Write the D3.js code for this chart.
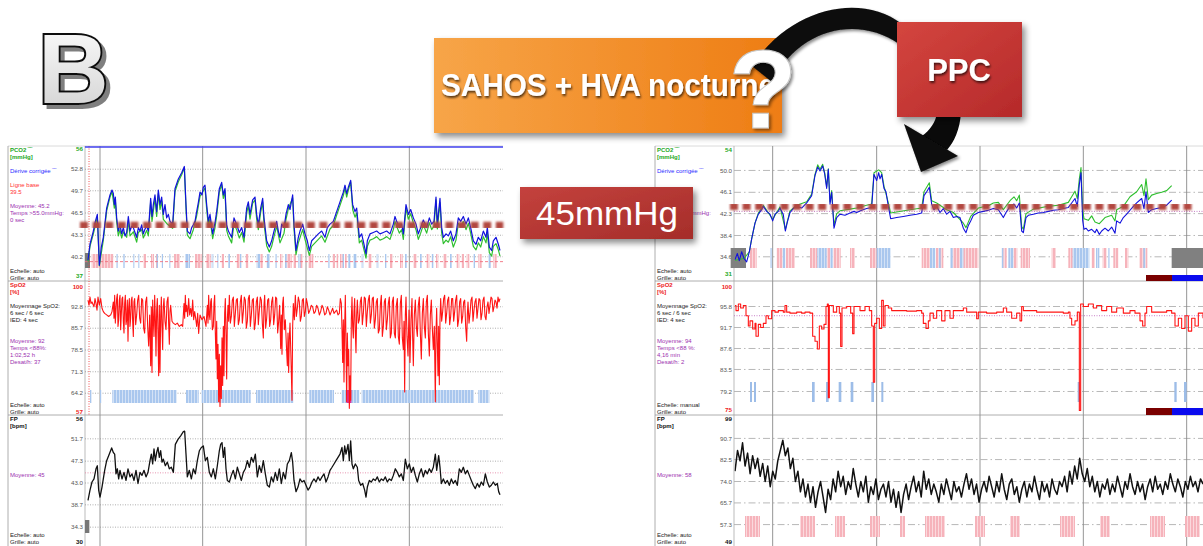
<!DOCTYPE html>
<html>
<head>
<meta charset="utf-8">
<script src="https://cdn.jsdelivr.net/npm/d3@7"></script>
<style>
  body { margin: 0; background: #fff; }
  svg { display: block; }
  text { font-family: "Liberation Sans", Arial, sans-serif; }
</style>
</head>
<body>
<svg id="chart" width="1203" height="546"></svg>
<script>
// time is a sample index along the night, hour lines sit on these samples
const hourMarksL = [60, 368, 678, 988];
const hourMarksR = [128, 440, 750, 1060, 1370];

// y ticks (first / last are the scale limits)
const pco2TicksL = [56, 52.8, 49.7, 46.5, 43.3, 40.2, 37];
const spo2TicksL = [100, 92.8, 85.7, 78.5, 71.3, 64.2, 57];
const fpTicksL = [56, 51.7, 47.3, 43.0, 38.7, 34.3, 30];
const pco2TicksR = [54, 50.0, 46.1, 42.3, 38.4, 34.6, 31];
const spo2TicksR = [100, 95.8, 91.7, 87.6, 83.5, 79.2, 75];
const fpTicksR = [99, 90.7, 82.5, 74.0, 65.7, 57.3, 49];

// label column text: [text, kind]
const pco2InfoL = [["PCO2 ‾‾", "sig"], ["[mmHg]", "sig"], null, ["Dérive corrigée ‾‾", "drift"], null, ["Ligne base", "base"], ["39.5", "base"], null, ["Moyenne: 45.2", "stat"], ["Temps >55.0mmHg:", "stat"], ["0 sec", "stat"]];
const spo2InfoL = [["SpO2", "sig"], ["[%]", "sig"], null, ["Moyennage SpO2:", "info"], ["6 sec / 6 sec", "info"], ["IED: 4 sec", "info"], null, null, ["Moyenne: 92", "stat"], ["Temps <88%:", "stat"], ["1:02,52 h", "stat"], ["Desat/h: 37", "stat"]];
const fpInfoL = [["FP", "sig"], ["[bpm]", "sig"], null, null, null, null, null, null, ["Moyenne: 45", "stat"]];
const footL = [["Echelle: auto", "Grille: auto"], ["Echelle: auto", "Grille: auto"], ["Echelle: auto", "Grille: auto"]];

const pco2InfoR = [["PCO2 ‾‾", "sig"], ["[mmHg]", "sig"], null, ["Dérive corrigée ‾‾", "drift"], null, null, null, null, null, ["Temps >55.0mmHg:", "stat"]];
const spo2InfoR = [["SpO2", "sig"], ["[%]", "sig"], null, ["Moyennage SpO2:", "info"], ["6 sec / 6 sec", "info"], ["IED: 4 sec", "info"], null, null, ["Moyenne: 94", "stat"], ["Temps <88 %:", "stat"], ["4,16 min", "stat"], ["Desat/h: 2", "stat"]];
const fpInfoR = [["FP", "sig"], ["[bpm]", "sig"], null, null, null, null, null, null, ["Moyenne: 58", "stat"]];
const footR = [["Echelle: auto", "Grille: auto"], ["Echelle: manual", "Grille: auto"], ["Echelle: auto", "Grille: auto"]];

// ---- left recording (before) ----
const pco2BlueL = [[24,39.7],[30,42.0],[40,43.9],[46,45.3],[52,46.3],[58,39.0],[64,41.6],[70,43.0],[80,47.2],[90,49.1],[96,49.8],[100,49.3],[103,47.7],[106,48.8],[110,45.8],[115,43.9],[120,44.8],[125,43.5],[130,44.4],[135,43.2],[140,43.7],[145,46.0],[150,43.9],[155,44.6],[160,44.4],[165,43.7],[170,43.0],[175,44.4],[180,43.9],[185,44.8],[190,43.5],[195,44.2],[200,44.6],[205,43.9],[210,47.2],[212,48.6],[216,46.0],[220,47.7],[225,49.1],[230,46.7],[235,49.8],[240,47.7],[245,48.8],[250,46.3],[255,47.7],[260,45.8],[265,46.3],[270,45.3],[278,44.9],[285,50.0],[295,51.4],[305,52.3],[313,53.2],[318,47.7],[322,43.9],[330,43.5],[335,44.4],[340,44.8],[345,45.3],[350,46.7],[355,48.0],[360,49.5],[366,49.1],[370,50.2],[375,50.5],[380,47.7],[385,45.3],[390,46.3],[398,43.5],[405,45.1],[410,46.7],[418,50.0],[425,50.9],[430,49.1],[435,50.0],[440,44.8],[445,43.9],[455,43.0],[462,45.8],[470,44.8],[478,43.7],[485,44.4],[492,43.0],[500,47.2],[505,48.1],[510,46.3],[518,48.4],[525,48.8],[530,46.3],[535,44.8],[542,47.2],[548,48.6],[552,45.8],[560,42.5],[568,41.6],[575,42.5],[582,43.9],[590,45.3],[595,43.9],[600,43.0],[605,44.9],[612,44.4],[618,46.3],[625,47.7],[630,47.0],[638,49.1],[642,44.9],[648,41.1],[655,43.0],[660,43.9],[668,44.9],[675,43.5],[682,42.5],[688,41.1],[695,42.5],[705,43.0],[715,43.5],[725,43.9],[735,43.0],[742,44.4],[750,44.9],[760,45.3],[770,46.7],[780,48.1],[790,49.5],[795,50.5],[800,49.3],[805,50.2],[812,51.2],[818,47.7],[825,46.7],[830,47.2],[838,43.0],[845,43.5],[852,42.0],[858,40.6],[862,42.5],[870,43.5],[880,43.7],[890,43.9],[900,43.5],[910,43.7],[920,43.9],[930,43.5],[940,44.9],[945,46.0],[950,45.3],[958,44.4],[965,44.9],[970,43.5],[978,47.7],[985,46.3],[992,47.0],[1000,45.8],[1008,44.9],[1015,43.5],[1022,44.4],[1030,45.5],[1040,44.4],[1048,45.8],[1055,44.9],[1062,45.3],[1068,48.8],[1072,44.9],[1080,48.6],[1085,44.4],[1090,43.0],[1098,43.5],[1105,43.2],[1112,43.9],[1120,42.5],[1128,43.5],[1135,45.8],[1142,45.3],[1150,46.0],[1158,44.9],[1165,45.8],[1172,44.4],[1180,42.5],[1188,42.0],[1195,43.0],[1202,42.5],[1210,43.9],[1218,43.0],[1222,44.4],[1228,41.6],[1235,41.1],[1240,42.5],[1248,43.0],[1255,42.0],[1260,41.1]];
const pco2GreenL = [[24,39.5],[30,41.7],[40,43.5],[52,45.9],[58,38.9],[70,42.6],[80,46.8],[90,48.8],[96,49.6],[103,47.2],[106,48.4],[110,45.2],[115,43.2],[120,44.1],[125,42.9],[130,43.8],[140,43.0],[145,45.4],[150,43.2],[160,43.8],[170,42.3],[175,43.7],[185,44.1],[190,42.9],[200,44.0],[205,43.2],[212,48.1],[216,45.3],[225,48.6],[230,46.0],[235,49.3],[240,47.0],[245,48.2],[250,45.6],[260,45.0],[270,44.6],[278,44.3],[285,49.6],[295,51.0],[305,52.0],[313,53.0],[318,47.2],[322,43.3],[330,42.8],[340,44.1],[350,46.1],[360,48.9],[370,49.7],[375,50.1],[380,47.1],[385,44.6],[390,45.7],[398,42.8],[405,44.4],[410,46.1],[418,49.5],[425,50.6],[430,48.6],[435,49.6],[440,44.0],[445,43.2],[455,42.2],[462,45.0],[470,44.1],[478,42.9],[485,43.7],[492,42.3],[500,46.5],[505,47.6],[510,45.6],[518,47.9],[525,48.4],[530,45.6],[535,44.1],[542,46.6],[548,48.1],[552,45.0],[560,41.8],[568,40.9],[575,41.7],[582,43.1],[590,44.6],[600,42.2],[612,43.6],[618,45.6],[625,47.1],[638,48.7],[642,44.2],[648,40.5],[655,42.2],[668,44.1],[675,42.7],[688,40.4],[695,41.7],[705,42.2],[715,42.7],[725,43.2],[735,42.3],[750,44.2],[760,44.7],[770,46.2],[780,47.6],[790,49.0],[795,50.1],[800,48.8],[805,49.8],[812,51.0],[818,47.0],[825,45.9],[830,46.5],[838,42.2],[845,42.6],[852,41.2],[858,40.0],[862,41.7],[870,42.6],[880,42.8],[890,43.1],[900,42.6],[910,42.8],[920,43.1],[930,42.7],[940,44.1],[945,45.3],[950,44.6],[958,43.6],[965,44.1],[970,42.7],[978,47.2],[985,45.6],[992,46.4],[1000,45.1],[1008,44.1],[1015,42.7],[1022,43.6],[1030,44.8],[1040,43.6],[1048,45.1],[1055,44.1],[1062,44.6],[1068,48.4],[1072,44.2],[1080,48.0],[1085,43.6],[1090,42.1],[1098,42.6],[1105,42.3],[1112,43.1],[1120,41.6],[1128,42.6],[1135,45.0],[1142,44.5],[1150,45.3],[1158,44.1],[1165,45.0],[1172,43.6],[1180,41.7],[1188,41.2],[1195,42.2],[1202,41.6],[1210,43.1],[1218,42.2],[1222,43.6],[1228,40.8],[1235,40.3],[1240,41.7],[1248,42.1],[1255,41.2],[1260,40.3]];
const spo2L = [[24,95.0],[27,93.3],[30,96.0],[33,93.9],[36,94.4],[42,92.8],[45,95.5],[48,93.9],[51,91.7],[54,96.0],[58,93.3],[62,95.5],[66,92.3],[70,91.2],[74,90.6],[80,90.1],[86,89.6],[92,90.1],[96,91.2],[100,94.4],[102,89.0],[104,96.6],[106,87.4],[108,91.7],[110,95.5],[112,97.0],[114,86.3],[116,88.5],[118,95.0],[120,96.6],[122,85.2],[124,90.6],[126,95.5],[128,96.0],[130,88.0],[132,84.1],[134,93.9],[136,96.6],[138,86.9],[140,88.5],[142,95.0],[144,81.4],[146,92.3],[148,95.5],[150,86.3],[152,89.0],[154,95.0],[156,96.0],[158,88.0],[160,83.0],[162,94.4],[164,95.5],[167,86.9],[170,90.1],[173,95.0],[176,96.6],[179,89.0],[182,87.4],[185,95.5],[188,95.0],[191,85.7],[194,84.1],[197,94.4],[200,96.0],[203,86.3],[206,79.8],[209,90.1],[212,73.3],[214,92.8],[216,71.1],[218,95.0],[220,88.5],[222,83.0],[224,96.6],[226,89.0],[228,76.5],[230,91.7],[232,95.5],[234,84.1],[236,70.0],[238,93.3],[240,71.1],[242,89.6],[244,96.0],[246,86.3],[248,78.7],[250,92.8],[252,95.5],[255,88.0],[258,85.2],[261,94.4],[264,96.0],[266,86.9],[268,80.4],[270,91.2],[272,93.3],[276,88.0],[280,87.4],[286,86.9],[292,87.4],[298,86.3],[304,86.9],[308,86.3],[312,93.9],[314,89.0],[316,96.6],[318,91.2],[320,93.3],[323,89.6],[326,95.5],[329,90.1],[332,92.3],[335,89.6],[338,95.0],[341,88.5],[344,91.2],[347,89.0],[350,86.3],[353,90.6],[356,84.0],[360,90.1],[366,88.5],[372,89.6],[378,86.3],[382,93.3],[384,87.4],[386,96.6],[388,90.1],[390,88.5],[392,94.4],[394,95.5],[397,85.2],[400,86.3],[402,93.9],[404,96.6],[406,84.1],[408,75.5],[410,88.0],[412,69.0],[414,80.4],[416,61.4],[418,77.1],[420,59.8],[422,73.3],[424,62.5],[426,82.5],[428,66.8],[430,86.3],[432,70.0],[434,90.6],[436,95.5],[438,84.1],[440,68.9],[442,88.5],[444,93.3],[446,88.0],[448,96.6],[451,87.4],[454,89.6],[457,95.0],[460,96.0],[463,86.3],[466,90.6],[469,95.0],[472,95.5],[475,86.9],[478,88.5],[481,94.4],[484,96.6],[487,87.4],[490,91.2],[493,96.0],[496,95.0],[499,85.7],[502,88.0],[505,95.5],[508,96.6],[511,86.3],[514,90.1],[517,95.0],[520,95.5],[523,85.2],[526,87.4],[529,94.4],[532,96.0],[535,86.9],[538,91.7],[541,96.0],[544,95.0],[547,87.4],[550,82.5],[552,93.3],[554,96.6],[557,85.7],[560,89.0],[563,95.0],[566,95.5],[569,86.3],[572,88.5],[575,94.4],[578,96.0],[581,86.9],[584,90.1],[587,96.0],[590,95.5],[593,84.1],[596,88.0],[599,93.3],[602,79.0],[604,90.1],[606,77.1],[608,93.9],[610,96.0],[613,85.2],[616,88.5],[619,80.4],[622,73.3],[624,84.1],[626,71.1],[628,82.5],[630,87.4],[633,75.5],[636,61.9],[638,86.3],[640,93.9],[643,88.5],[646,96.6],[649,89.6],[652,92.3],[655,96.0],[658,94.4],[661,88.0],[664,89.6],[667,95.0],[670,95.5],[673,89.6],[676,91.2],[679,95.5],[682,93.9],[686,90.6],[690,91.7],[694,93.3],[698,92.8],[702,90.6],[706,91.2],[710,93.3],[714,92.3],[718,90.1],[722,91.2],[726,93.3],[730,92.3],[734,90.1],[738,90.6],[742,92.8],[746,91.7],[750,90.1],[754,91.2],[758,92.3],[762,90.6],[766,91.2],[770,91.7],[774,90.1],[778,90.6],[781,95.5],[784,93.9],[786,85.2],[788,74.4],[790,88.5],[792,67.9],[794,86.3],[796,96.6],[798,80.4],[800,61.4],[802,84.1],[804,73.3],[806,78.7],[808,59.2],[810,70.0],[812,61.9],[814,88.5],[816,96.0],[818,86.3],[820,82.5],[822,91.2],[824,95.5],[826,84.1],[828,77.6],[830,90.1],[832,95.0],[835,87.4],[838,88.5],[841,94.4],[844,96.0],[847,86.9],[850,90.6],[853,96.0],[856,95.5],[859,86.3],[862,91.2],[865,95.0],[868,96.6],[871,87.4],[874,90.1],[877,95.5],[880,96.0],[883,85.7],[886,88.5],[889,94.4],[892,95.5],[895,84.1],[898,85.2],[901,93.3],[904,96.6],[907,83.0],[910,86.3],[913,94.4],[916,95.5],[919,85.2],[922,88.5],[925,93.9],[928,96.0],[931,82.5],[934,84.1],[937,94.4],[940,96.0],[943,84.1],[946,82.5],[949,93.3],[952,95.5],[955,83.0],[958,80.4],[961,93.9],[964,96.6],[967,82.5],[970,78.7],[972,88.0],[974,64.6],[976,90.1],[978,96.0],[981,83.0],[984,76.5],[987,91.7],[990,74.4],[993,88.5],[996,95.5],[998,82.5],[1000,73.3],[1003,90.1],[1006,95.0],[1009,86.3],[1012,83.0],[1015,93.3],[1018,96.0],[1021,84.1],[1024,75.5],[1027,90.6],[1030,95.5],[1033,86.3],[1036,82.5],[1039,94.4],[1042,96.6],[1045,84.1],[1048,76.5],[1051,90.1],[1054,95.0],[1057,85.7],[1060,78.7],[1063,86.3],[1066,61.4],[1068,84.1],[1070,92.3],[1072,80.4],[1074,70.0],[1076,86.3],[1078,67.0],[1080,88.5],[1082,95.5],[1085,88.0],[1088,91.2],[1091,95.5],[1094,96.6],[1097,87.4],[1100,90.6],[1103,95.0],[1106,96.0],[1109,86.9],[1112,89.6],[1115,95.5],[1118,95.5],[1121,88.0],[1124,91.2],[1127,95.0],[1130,96.6],[1133,86.3],[1136,88.5],[1139,94.4],[1142,95.5],[1145,87.4],[1148,89.6],[1151,94.4],[1154,95.0],[1157,86.3],[1160,81.4],[1162,90.1],[1164,94.4],[1167,87.4],[1170,90.6],[1173,95.0],[1176,96.0],[1179,88.0],[1182,91.7],[1185,94.4],[1188,95.5],[1191,89.0],[1194,92.3],[1197,95.5],[1200,95.0],[1203,88.5],[1206,90.6],[1209,95.0],[1212,96.0],[1215,89.6],[1218,88.5],[1221,92.8],[1224,94.4],[1227,90.6],[1230,93.3],[1233,96.0],[1236,95.5],[1239,91.2],[1242,92.8],[1245,95.0],[1248,94.4],[1251,92.3],[1254,96.0],[1257,94.4],[1260,95.5]];
const fpL = [[24,39.6],[30,41.6],[36,43.2],[42,43.8],[48,45.8],[52,46.4],[56,41.6],[60,40.2],[66,42.2],[74,45.5],[80,47.4],[88,48.7],[95,49.9],[100,49.0],[104,48.7],[108,44.8],[112,45.8],[116,43.8],[120,45.5],[126,43.8],[132,45.1],[138,43.5],[144,45.8],[150,44.2],[156,44.8],[162,43.5],[168,45.5],[174,42.9],[180,45.1],[186,44.5],[192,45.5],[198,44.2],[204,45.1],[210,47.4],[214,48.7],[218,46.75],[222,49.7],[226,47.4],[230,49.0],[234,50.0],[238,48.05],[242,49.35],[246,47.1],[250,47.7],[256,46.4],[262,47.1],[268,45.8],[274,46.1],[280,45.1],[286,50.6],[294,51.6],[302,52.3],[310,53.1],[314,53.2],[318,48.7],[322,44.2],[328,45.5],[334,43.8],[340,45.8],[346,44.8],[352,47.4],[358,49.35],[364,50.0],[370,50.3],[376,47.4],[382,48.05],[388,45.1],[394,44.2],[400,45.8],[406,43.8],[412,46.4],[418,49.35],[422,50.6],[426,50.96],[430,48.05],[434,50.0],[438,45.8],[442,43.5],[448,43.2],[454,44.5],[460,45.5],[466,43.8],[472,46.1],[478,44.8],[484,43.5],[490,45.1],[496,45.8],[502,47.4],[508,46.1],[514,48.05],[520,47.1],[526,48.7],[532,44.2],[538,46.4],[544,45.1],[550,47.4],[556,44.8],[562,42.55],[568,42.2],[574,44.2],[580,43.2],[586,45.1],[592,43.5],[598,45.8],[604,42.9],[610,45.1],[616,43.8],[622,46.75],[628,47.4],[634,49.0],[638,47.1],[642,43.5],[648,41.3],[654,42.2],[660,43.8],[666,43.2],[672,43.5],[678,42.55],[684,41.6],[690,42.2],[696,43.2],[702,43.8],[708,43.2],[714,44.2],[720,43.5],[726,44.2],[732,44.8],[738,43.2],[744,44.2],[750,45.5],[756,46.1],[762,46.75],[768,47.4],[774,48.05],[780,48.7],[786,50.0],[790,47.4],[794,50.3],[798,48.7],[804,50.6],[808,47.4],[812,51.3],[816,46.75],[820,45.8],[826,46.75],[832,46.1],[836,43.5],[842,42.55],[848,42.9],[854,41.6],[858,40.2],[862,42.2],[868,43.5],[874,43.2],[880,43.8],[886,43.5],[892,44.2],[898,43.2],[904,43.8],[910,43.5],[916,44.2],[922,43.2],[928,43.8],[934,43.5],[940,44.5],[946,45.8],[952,45.1],[958,44.2],[964,44.8],[970,43.5],[976,47.7],[982,45.8],[988,46.75],[994,45.1],[1000,46.1],[1006,44.5],[1012,43.2],[1018,44.8],[1024,45.8],[1030,44.2],[1036,45.5],[1042,44.8],[1048,45.8],[1054,45.1],[1060,46.1],[1066,48.7],[1070,45.5],[1076,48.4],[1080,46.1],[1084,42.9],[1090,43.8],[1096,42.9],[1102,43.5],[1108,42.55],[1114,43.8],[1120,42.9],[1126,43.5],[1132,42.55],[1138,45.8],[1144,45.1],[1150,46.1],[1156,44.8],[1162,45.5],[1168,44.5],[1174,43.5],[1180,42.55],[1186,41.9],[1192,42.9],[1198,42.2],[1204,43.2],[1210,42.55],[1216,44.8],[1222,43.2],[1228,42.2],[1234,42.55],[1240,43.2],[1246,42.55],[1252,42.9],[1256,41.3],[1260,40.7]];

// events (sample intervals)
const pco2PinkL = [[35,100],[190,198],[213,222],[228,233],[282,300],[345,365],[378,392],[425,432],[470,480],[497,505],[540,548],[600,607],[620,635],[640,648],[660,668],[685,700],[758,765],[770,775],[780,788],[795,800],[865,875],[930,938],[960,968],[1000,1010],[1040,1048],[1068,1075],[1090,1100],[1130,1138],[1145,1152],[1160,1168],[1195,1205],[1240,1250]];
const pco2BlueEvL = [[108,113],[130,134],[160,164],[175,178],[230,234],[245,249],[268,272],[315,330],[395,400],[412,416],[445,450],[480,484],[530,540],[560,570],[585,590],[615,620],[655,662],[745,750],[788,792],[805,812],[820,830],[845,850],[890,895],[915,920],[975,980],[1020,1025],[1055,1060],[1110,1115],[1180,1185],[1225,1232]];
const pco2GreyL = [[15,30]];
const spo2EvL = [[30,34],[60,64],[97,290],[318,356],[365,512],[528,640],[688,762],[785,838],[845,1182],[1195,1228]];
const spo2MagL = [[800,814]];
const fpGreyL = [[15,28]];

// ---- right recording (under PPC) ----
const pco2BlueR = [[15,34.1],[22,35.2],[28,33.9],[35,35.5],[42,34.3],[50,33.7],[58,35.5],[65,37.8],[75,40.6],[85,42.2],[95,43.0],[100,43.6],[110,42.7],[120,42.2],[128,41.0],[135,42.2],[145,42.7],[150,43.3],[160,42.1],[166,39.2],[172,40.8],[180,42.5],[190,43.2],[200,43.6],[215,43.3],[230,44.2],[245,45.5],[255,49.1],[263,50.6],[270,49.9],[278,50.8],[284,49.4],[290,46.8],[295,50.2],[300,44.0],[305,46.1],[312,39.7],[320,41.6],[330,42.2],[345,42.0],[360,42.4],[372,42.7],[380,42.5],[395,42.9],[410,43.2],[425,43.4],[432,49.3],[440,48.2],[446,49.6],[450,48.5],[455,49.3],[462,46.8],[468,46.2],[475,43.6],[482,41.4],[500,41.6],[520,41.8],[540,42.0],[560,42.2],[575,42.4],[582,45.5],[590,46.2],[598,47.0],[605,44.0],[612,43.0],[620,43.6],[630,42.5],[640,43.2],[650,42.2],[660,42.7],[670,41.6],[680,41.8],[690,41.6],[700,39.7],[708,38.9],[715,40.2],[722,41.0],[730,42.0],[745,42.5],[760,42.7],[775,42.9],[790,43.2],[805,43.0],[820,41.6],[828,42.5],[840,43.6],[852,44.0],[860,43.3],[868,44.2],[875,39.2],[880,38.9],[888,41.6],[895,42.0],[910,42.2],[925,42.4],[940,42.5],[955,42.7],[970,42.9],[985,43.0],[1000,43.2],[1015,43.4],[1025,44.2],[1035,45.0],[1042,43.6],[1048,47.5],[1053,49.6],[1058,41.1],[1062,39.5],[1068,39.7],[1075,39.2],[1085,39.5],[1095,38.9],[1100,39.5],[1108,38.6],[1115,39.2],[1125,39.7],[1135,39.2],[1145,39.9],[1155,38.8],[1160,41.0],[1170,40.6],[1180,41.6],[1190,42.2],[1200,42.9],[1210,43.6],[1220,44.2],[1235,45.0],[1242,43.2],[1248,46.2],[1255,42.5],[1265,43.0],[1280,43.2],[1295,43.4],[1310,43.8],[1325,44.7]];
const pco2GreenR = [[15,34.0],[42,34.3],[58,35.5],[65,37.8],[75,40.6],[85,42.4],[100,43.8],[128,41.3],[150,43.5],[166,39.5],[180,42.8],[200,43.8],[230,44.4],[245,45.8],[255,49.3],[263,51.0],[270,50.2],[278,51.1],[284,49.6],[290,47.1],[295,50.3],[300,44.4],[305,46.4],[312,40.2],[320,42.3],[330,42.8],[360,43.1],[380,43.3],[410,43.8],[425,44.0],[432,49.6],[446,50.1],[455,49.6],[462,47.2],[475,44.2],[482,42.4],[500,42.6],[540,43.0],[575,43.3],[582,46.2],[598,47.8],[605,44.6],[620,44.2],[650,43.0],[670,42.5],[700,40.6],[708,39.8],[722,41.8],[745,43.3],[775,43.7],[790,44.2],[805,44.3],[820,43.0],[840,44.6],[852,45.3],[860,44.6],[868,45.6],[875,40.0],[880,39.5],[888,42.3],[910,43.1],[955,43.6],[985,43.8],[1015,44.3],[1025,45.3],[1035,46.3],[1042,45.0],[1048,48.5],[1053,50.5],[1058,42.8],[1062,41.4],[1075,41.1],[1085,41.9],[1095,40.8],[1108,40.5],[1125,41.6],[1145,42.0],[1155,41.0],[1160,43.0],[1180,43.6],[1200,45.3],[1220,46.2],[1235,47.5],[1242,45.5],[1248,48.5],[1255,44.8],[1265,45.6],[1280,45.9],[1295,46.1],[1310,46.4],[1325,47.3]];
const spo2R = [[15,96.0],[18,95.0],[25,96.3],[32,95.5],[40,96.0],[48,94.0],[55,92.0],[60,93.0],[68,91.4],[75,92.5],[78,90.0],[85,92.3],[92,91.7],[100,92.5],[108,94.0],[115,93.4],[125,95.0],[135,94.7],[145,95.0],[160,94.7],[165,96.0],[170,94.7],[180,94.5],[200,94.7],[215,94.5],[225,94.7],[240,94.5],[248,90.0],[255,89.0],[262,87.5],[268,92.0],[275,91.4],[282,92.3],[288,95.8],[292,96.3],[295,78.0],[298,96.0],[310,94.7],[320,95.8],[328,94.5],[332,88.0],[336,95.5],[350,95.8],[362,94.5],[368,90.5],[372,95.8],[390,95.0],[405,95.8],[418,95.0],[425,92.0],[430,81.0],[434,92.5],[440,93.5],[448,91.5],[455,97.0],[460,92.0],[465,96.0],[475,95.5],[485,95.0],[500,95.0],[530,94.9],[560,95.0],[575,94.5],[580,92.5],[588,91.5],[595,93.0],[600,94.5],[610,93.5],[620,95.0],[635,93.0],[645,95.0],[660,93.5],[670,95.0],[700,95.5],[710,94.7],[740,93.4],[745,94.7],[770,94.5],[800,94.7],[820,95.5],[830,94.7],[845,93.5],[860,94.5],[870,93.0],[875,95.8],[880,95.0],[920,94.7],[960,94.7],[1000,94.5],[1015,94.7],[1020,93.5],[1025,92.2],[1035,93.0],[1042,94.7],[1048,75.5],[1052,96.3],[1060,95.8],[1075,96.3],[1090,95.5],[1100,96.0],[1115,95.0],[1130,95.8],[1145,94.7],[1160,95.5],[1180,94.5],[1200,95.0],[1215,94.5],[1230,93.0],[1238,92.0],[1245,94.5],[1250,95.8],[1265,94.7],[1290,94.7],[1310,95.0],[1325,94.5],[1335,92.0],[1345,93.5],[1355,91.5],[1365,94.0],[1375,91.0],[1385,93.5],[1395,92.0],[1405,94.5],[1419,93.5]];
// pulse rate, read at an even sample step across the right trace
const fpR = [78,86,82,89,80,85,77,84,79,83, 76,81,74,80,72,78,75,82,86,90, 84,87,79,83,74,78,70,75,68,73, 66,72,64,70,74,68,62,71,67,75, 70,78,72,76,69,74,71,79,73,68, 74,70,76,66,72,69,75,67,71,73, 68,74,66,71,64,70,62,69,73,67, 72,76,70,74,68,78,71,75,69,73, 70,66,73,69,75,71,67,74,70,72, 68,73,77,71,75,69,73,66,71,74, 70,76,72,68,74,70,77,71,67,73, 75,69,72,66,71,74,68,73,70,76, 71,67,74,70,73,68,75,71,69,74, 72,76,70,78,73,80,75,83,77,74, 79,72,76,70,74,68,73,71,75,69, 73,70,76,72,68,74,71,77,72,69, 74,70,73,67,72,75,70,76,71,73, 69,74,71,77,73,70,75,72,68,74, 71,76,72,74,70,75,73];

const pco2PinkR = [[60,80],[140,158],[168,195],[240,262],[290,300],[310,332],[360,375],[420,440],[575,600],[618,640],[668,690],[700,745],[820,830],[850,862],[872,900],[965,978],[1015,1028],[1085,1095],[1118,1130],[1150,1165],[1185,1195],[1228,1252]];
const pco2BlueEvR = [[120,125],[158,166],[262,290],[300,308],[440,482],[600,616],[626,632],[660,668],[690,700],[815,820],[835,850],[1028,1078],[1098,1108],[1135,1140],[1240,1246]];
const pco2GreyR = [[2,48],[1325,1419]];
const spo2EvR = [[60,66],[72,78],[246,254],[288,296],[326,334],[362,370],[424,432],[454,460],[1043,1050],[1333,1340],[1362,1370]];
const fpPinkR = [[45,90],[210,255],[315,345],[420,450],[510,525],[585,645],[735,765],[840,870],[990,1035],[1110,1140],[1260,1305],[1365,1410]];
const statusRedR = [[1248,1326]];
const statusBlueR = [[1326,1419]];

// reference lines
const pco2BaseL = 39.5, fpMeanL = 45, pco2BaseR = 42.7, spo2MeanR = 94;
// 45 mmHg marker as placed on the slide
const dashLevelL = 44.7, dashLevelR = 43.6;
const dashSpanL = [0, 1270], dashSpanR = [0, 1385];

// ---------------------------------------------------------------
const svg = d3.select("#chart");
const defs = svg.append("defs");

function dropShadow(id, dx, dy, sd, op, color = "#000") {
    const f = defs.append("filter").attr("id", id)
        .attr("x", "-30%").attr("y", "-30%").attr("width", "160%").attr("height", "160%");
    f.append("feDropShadow").attr("dx", dx).attr("dy", dy)
        .attr("stdDeviation", sd).attr("flood-color", color).attr("flood-opacity", op);
}
dropShadow("boxShadow", 3, 4, 3, 0.45);
dropShadow("textShadow", 1, 2, 1.2, 0.65);
dropShadow("softShadow", 2, 2, 1.5, 0.45);
dropShadow("letterShadow", 4, 4, 0.6, 0.75, "#555");
defs.append("filter").attr("id", "blur").append("feGaussianBlur").attr("stdDeviation", 0.9);

function linGrad(id, c1, c2, x2 = 1, y2 = 0) {
    const g = defs.append("linearGradient").attr("id", id)
        .attr("x1", 0).attr("y1", 0).attr("x2", x2).attr("y2", y2);
    g.append("stop").attr("offset", "0%").attr("stop-color", c1);
    g.append("stop").attr("offset", "100%").attr("stop-color", c2);
}
linGrad("orangeGrad", "#f7a548", "#ee7d14");
linGrad("ppcGrad", "#d4463f", "#b5292a", 1, 1);
linGrad("mmGrad", "#c4423d", "#a52d2a", 1, 1);
linGrad("bGrad", "#ffffff", "#cfcfcf", 0, 1);

function stripes(id, c1, c2) {
    const p = defs.append("pattern").attr("id", id).attr("patternUnits", "userSpaceOnUse")
        .attr("width", 3).attr("height", 10);
    p.append("rect").attr("width", 3).attr("height", 10).attr("fill", c1);
    p.append("rect").attr("x", 2).attr("width", 1).attr("height", 10).attr("fill", c2);
}
stripes("pinkStripes", "#f6b3bb", "#fbd9dd");
stripes("blueStripes", "#a9c7ee", "#d3e2f6");

const sigColor = ["#22a822", "#ee1c1c", "#111"];
const kindColor = {drift: "#2b2bff", base: "#ff3030", stat: "#9b30b0", info: "#222"};
const fmtInner = d3.format(".1f");
const H = 546;

const sides = [
    {x0: 8, axis: 85, x1: 503, tDomain: [24, 1260], tRange: [88, 500], hours: hourMarksL, style: "dot",
     panels: [
        {top: 146, bottom: 281, y0: 147, y1: 279, ticks: pco2TicksL, info: pco2InfoL, foot: footL[0]},
        {top: 281, bottom: 415, y0: 285, y1: 415, ticks: spo2TicksL, info: spo2InfoL, foot: footL[1]},
        {top: 415, bottom: 560, y0: 417, y1: 549, ticks: fpTicksL, info: fpInfoL, foot: footL[2]}]},
    {x0: 655, axis: 734, x1: 1203, tDomain: [15, 1419], tRange: [735, 1203], hours: hourMarksR, style: "dashdot",
     panels: [
        {top: 146, bottom: 281, y0: 148, y1: 277, ticks: pco2TicksR, info: pco2InfoR, foot: footR[0]},
        {top: 281, bottom: 415, y0: 285, y1: 413, ticks: spo2TicksR, info: spo2InfoR, foot: footR[1]},
        {top: 415, bottom: 560, y0: 417, y1: 546, ticks: fpTicksR, info: fpInfoR, foot: footR[2]}]}
];

sides.forEach((side, si) => {
    side.x = d3.scaleLinear().domain(side.tDomain).range(side.tRange);
    const g = svg.append("g");

    side.panels.forEach((p, pi) => {
        const lo = p.ticks[p.ticks.length - 1], hi = p.ticks[0];
        p.y = d3.scaleLinear().domain([lo, hi]).range([p.y1, p.y0]);
        const isEnd = i => i === 0 || i === p.ticks.length - 1;

        // frame + axis
        g.append("line").attr("x1", side.x0).attr("x2", side.x1).attr("y1", p.top).attr("y2", p.top)
            .attr("stroke", pi === 0 ? "#d0d0d0" : "#9a9a9a").attr("stroke-width", 0.8);
        g.append("line").attr("x1", side.x0).attr("x2", side.x0).attr("y1", p.top).attr("y2", p.bottom)
            .attr("stroke", "#9a9a9a").attr("stroke-width", 0.8);
        g.append("line").attr("x1", side.axis).attr("x2", side.axis).attr("y1", p.top).attr("y2", p.bottom)
            .attr("stroke", "#aaa").attr("stroke-width", 0.8);

        // horizontal grid
        g.selectAll(null).data(p.ticks.slice(1, -1)).enter().append("line")
            .attr("x1", side.axis).attr("x2", side.x1)
            .attr("y1", d => p.y(d)).attr("y2", d => p.y(d))
            .attr("stroke", side.style === "dot" ? "#8c8c8c" : "#b0b0b0")
            .attr("stroke-width", side.style === "dot" ? 0.7 : 0.9)
            .attr("stroke-dasharray", side.style === "dot" ? "1,1.5" : "7,3,1.5,3");

        // hour lines
        g.selectAll(null).data(side.hours).enter().append("line")
            .attr("x1", d => side.x(d)).attr("x2", d => side.x(d))
            .attr("y1", p.top).attr("y2", p.bottom)
            .attr("stroke", "#8a8a8a").attr("stroke-width", 0.9);

        // tick labels
        g.selectAll(null).data(p.ticks).enter().append("text")
            .attr("x", side.axis - 2).attr("y", d => Math.min(p.y(d), H - 1))
            .attr("dy", (d, i) => i === 0 ? "0.7em" : (i === p.ticks.length - 1 ? "-0.1em" : "0.35em"))
            .attr("text-anchor", "end").attr("font-size", 6.2)
            .attr("font-weight", (d, i) => isEnd(i) ? "bold" : "normal")
            .attr("fill", (d, i) => isEnd(i) ? sigColor[pi] : "#555")
            .text((d, i) => isEnd(i) ? d : fmtInner(d));

        // label column
        p.info.forEach((row, ri) => {
            if (!row) return;
            g.append("text").attr("x", side.x0 + 2).attr("y", p.top + 4 + ri * 7).attr("dy", "0.35em")
                .attr("font-size", 6).attr("font-weight", row[1] === "sig" ? "bold" : "normal")
                .attr("fill", row[1] === "sig" ? sigColor[pi] : kindColor[row[1]])
                .text(row[0]);
        });
        p.foot.forEach((t, fi) => {
            g.append("text").attr("x", side.x0 + 2)
                .attr("y", Math.min(p.bottom, H - 1) - 3 - (p.foot.length - 1 - fi) * 7).attr("dy", "0.35em")
                .attr("font-size", 6).attr("fill", "#222").text(t);
        });

        defs.append("clipPath").attr("id", `clip${si}${pi}`).append("rect")
            .attr("x", side.axis + 0.5).attr("y", p.top + 0.5)
            .attr("width", side.x1 - side.axis).attr("height", p.bottom - p.top - 1);
    });
});

const [L, R] = sides;

function events(side, list, fill, yTop, yBot) {
    svg.append("g").selectAll("rect").data(list).enter().append("rect")
        .attr("x", d => side.x(d[0])).attr("width", d => Math.max(1, side.x(d[1]) - side.x(d[0])))
        .attr("y", yTop).attr("height", yBot - yTop).attr("fill", fill);
}
function trace(side, pi, data, color, width, curve = d3.curveLinear) {
    const p = side.panels[pi];
    svg.append("path").datum(data)
        .attr("clip-path", `url(#clip${sides.indexOf(side)}${pi})`)
        .attr("fill", "none").attr("stroke", color).attr("stroke-width", width)
        .attr("stroke-linejoin", "round")
        .attr("d", d3.line().curve(curve).x(d => side.x(d[0])).y(d => p.y(d[1])));
}
function hline(side, pi, v, color, dash, width = 0.9) {
    const p = side.panels[pi];
    svg.append("line").attr("x1", side.axis).attr("x2", side.x1)
        .attr("y1", p.y(v)).attr("y2", p.y(v))
        .attr("stroke", color).attr("stroke-width", width).attr("stroke-dasharray", dash);
}

// ---- left events & traces ----
events(L, pco2PinkL, "url(#pinkStripes)", 254, 268);
events(L, pco2BlueEvL, "url(#blueStripes)", 254, 268);
events(L, pco2GreyL, "#777", 253, 268);
hline(L, 0, pco2BaseL, "#f07080", "3,2");
svg.append("line").attr("x1", L.x(27)).attr("x2", L.x(27)).attr("y1", 146).attr("y2", 415)
    .attr("stroke", "#f04040").attr("stroke-width", 0.9).attr("stroke-dasharray", "1,1.5");
svg.append("line").attr("x1", L.axis).attr("x2", L.x1).attr("y1", 147).attr("y2", 147)
    .attr("stroke", "#4040ee").attr("stroke-width", 1.3);
trace(L, 0, pco2GreenL, "#2fbf2f", 1.2);
trace(L, 0, pco2BlueL, "#1212dd", 1.2);

events(L, spo2EvL, "url(#blueStripes)", 390, 403);
events(L, spo2MagL, "#e0309a", 390, 403);
trace(L, 1, spo2L, "#ff1414", 1.1);

events(L, fpGreyL, "#777", 520, 533);
hline(L, 2, fpMeanL, "#e58aa8", "1,1.5");
trace(L, 2, fpL, "#111", 1.3);

// ---- right events & traces ----
events(R, pco2PinkR, "url(#pinkStripes)", 248, 268);
events(R, pco2BlueEvR, "url(#blueStripes)", 248, 268);
events(R, pco2GreyR, "#808080", 248, 268);
events(R, statusRedR, "#7a0000", 275, 281);
events(R, statusBlueR, "#0a0aee", 275, 281);
hline(R, 0, pco2BaseR, "#c070c0", "1,1.5");
trace(R, 0, pco2GreenR, "#2fbf2f", 1.1);
trace(R, 0, pco2BlueR, "#1212dd", 1.1);

events(R, spo2EvR, "#9dbde8", 382, 402);
events(R, statusRedR, "#7a0000", 408, 415);
events(R, statusBlueR, "#0a0aee", 408, 415);
hline(R, 1, spo2MeanR, "#c070c0", "1,1.5");
trace(R, 1, spo2R, "#ff1414", 1.1, d3.curveStepAfter);

events(R, fpPinkR, "url(#pinkStripes)", 516, 537);
const fpStep = (R.tDomain[1] - R.tDomain[0]) / (fpR.length - 1);
trace(R, 2, fpR.map((v, i) => [R.tDomain[0] + i * fpStep, v]), "#111", 1.5);

// ---- slide annotations ----
const dashG = svg.append("g").attr("filter", "url(#blur)");
[[L, dashLevelL, dashSpanL], [R, dashLevelR, dashSpanR]].forEach(([side, lvl, span]) => {
    dashG.append("line").attr("x1", side.x(span[0])).attr("x2", side.x(span[1]))
        .attr("y1", side.panels[0].y(lvl)).attr("y2", side.panels[0].y(lvl))
        .attr("stroke", "#b2463f").attr("stroke-width", 7.5).attr("stroke-dasharray", "8,4.6");
});

// 45mmHg box
svg.append("rect").attr("x", 520).attr("y", 187).attr("width", 173).attr("height", 52)
    .attr("fill", "url(#mmGrad)").attr("filter", "url(#boxShadow)");
svg.append("text").attr("x", 607).attr("y", 225).attr("text-anchor", "middle")
    .attr("font-size", 34).attr("fill", "#fff").attr("textLength", 142).attr("lengthAdjust", "spacingAndGlyphs")
    .text("45mmHg");

// orange diagnosis box
svg.append("rect").attr("x", 434).attr("y", 38).attr("width", 348).attr("height", 95)
    .attr("fill", "url(#orangeGrad)").attr("filter", "url(#boxShadow)");
svg.append("text").attr("x", 441).attr("y", 96)
    .attr("font-size", 31).attr("font-weight", "bold").attr("fill", "#fff")
    .attr("textLength", 334).attr("lengthAdjust", "spacingAndGlyphs")
    .attr("filter", "url(#textShadow)")
    .text("SAHOS + HVA nocturne");

// curved arrow towards PPC
svg.append("path")
    .attr("d", "M752,66 C790,8 860,-8 902,24 L899,44 C860,16 800,26 772,82 Z")
    .attr("fill", "#0a0a0a").attr("filter", "url(#softShadow)");
svg.append("path")
    .attr("d", "M937,112 L961,112 C960,130 954,142 947,150 L922,136 C930,130 936,122 937,112 Z")
    .attr("fill", "#0a0a0a");
svg.append("path")
    .attr("d", "M904,124 L958,156 L921,172 Z")
    .attr("fill", "#0a0a0a").attr("filter", "url(#softShadow)");

// question mark
svg.append("text").attr("x", 763).attr("y", 128).attr("text-anchor", "middle")
    .attr("font-size", 112).attr("font-weight", "bold").attr("fill", "#fff")
    .attr("stroke", "#c8c8c8").attr("stroke-width", 1).attr("filter", "url(#softShadow)")
    .text("?");

// PPC box
svg.append("rect").attr("x", 897).attr("y", 22).attr("width", 125).attr("height", 95)
    .attr("fill", "url(#ppcGrad)").attr("filter", "url(#boxShadow)");
svg.append("text").attr("x", 959).attr("y", 81).attr("text-anchor", "middle")
    .attr("font-size", 31).attr("font-weight", "bold").attr("fill", "#fff")
    .attr("filter", "url(#textShadow)").text("PPC");

// panel letter
svg.append("text").attr("x", 38).attr("y", 103)
    .attr("font-size", 98).attr("font-weight", "bold").attr("fill", "url(#bGrad)")
    .attr("stroke", "#111").attr("stroke-width", 4).attr("paint-order", "stroke")
    .attr("filter", "url(#letterShadow)")
    .text("B");
</script>
</body>
</html>
